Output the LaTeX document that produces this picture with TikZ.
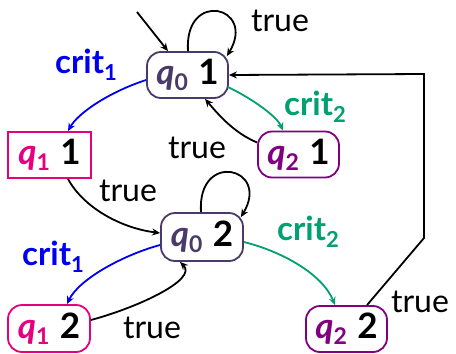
\documentclass[tikz,border=0pt]{standalone}
\usepackage{fontspec}
\setmainfont{Lato}
\usetikzlibrary{arrows.meta}
\definecolor{cq0}{HTML}{4A3A6A}
\definecolor{cq1}{HTML}{E5007D}
\definecolor{cq2}{HTML}{800080}
\definecolor{cblue}{HTML}{0000F0}
\definecolor{cgreen}{HTML}{00A070}
\newcommand\qn[3]{{\color{#1}\bfseries\itshape q\raisebox{-0.17em}{\upshape\fontsize{23}{24}\selectfont #2}}\hspace{0.3em}{\bfseries #3}}
\newcommand\crsub[1]{crit\raisebox{-0.2em}{\fontsize{22}{24}\selectfont #1}}
\begin{document}
\begin{tikzpicture}[x=1pt,y=-1pt,
  st/.style={draw,line width=1.8pt,minimum width=81pt,minimum height=46pt,inner sep=0pt,
    font=\fontsize{35}{36}\selectfont},
  rst/.style={st,rounded corners=14pt},
  tr/.style={font=\fontsize{32}{34}\selectfont},
  cr/.style={font=\fontsize{33}{34}\selectfont\bfseries},
  ar/.style={line width=1.8pt,-{Stealth[length=8pt,width=7pt]}}]
\useasboundingbox (0,0) rectangle (456,354);
\node[rst,draw=cq0] (q01) at (187.5,75) {\qn{cq0}{0}{1}};
\node[st,draw=cq1,minimum width=83pt] (q11) at (49.5,155) {\qn{cq1}{1}{1}};
\node[rst,draw=cq2] (q21) at (298.5,154.5) {\qn{cq2}{2}{1}};
\node[rst,draw=cq0,minimum width=82pt,minimum height=48pt] (q02) at (202,237) {\qn{cq0}{0}{2}};
\node[rst,draw=cq1,minimum width=82pt,minimum height=47pt] (q12) at (49,328.5) {\qn{cq1}{1}{2}};
\node[rst,draw=cq2,minimum height=46pt] (q22) at (346.5,329) {\qn{cq2}{2}{2}};
\coordinate (init) at (137,12);
\coordinate (b1) at (424,238);
\coordinate (b2) at (424,74);
% edges
\draw[ar] (init) -- ([xshift=-19.5pt]q01.north);
\draw[ar] ([xshift=0.5pt]q01.north) .. controls +(-4,-62) and +(30,-50) .. ([xshift=-2pt,yshift=-5pt]q01.north east);
\draw[ar,cblue] ([yshift=-5pt]q01.west) .. controls +(-37,12) and +(10,-18) .. ([xshift=18.5pt]q11.north);
\draw[ar,cgreen] ([xshift=-1pt,yshift=-12pt]q01.east) .. controls +(25,12) and +(-6,-14) .. ([xshift=-15.5pt]q21.north);
\draw[ar] ([yshift=12pt]q21.west) .. controls +(-24,-10) and +(12,14) .. ([xshift=17.5pt]q01.south);
\draw[ar] ([xshift=18.5pt]q11.south) .. controls +(15,28) and +(-40,-5) .. ([yshift=4pt]q02.west);
\draw[ar] ([xshift=-1pt]q02.north) .. controls +(-4,-62) and +(30,-50) .. ([xshift=-3pt,yshift=-5pt]q02.north east);
\draw[ar,cblue] ([yshift=-8pt]q02.west) .. controls +(-37,10) and +(12,-25) .. ([xshift=18pt]q12.north);
\draw[ar] ([yshift=8.5pt]q12.east) .. controls +(45,-12) and +(18,18) .. ([xshift=-22pt]q02.south);
\draw[ar,cgreen] ([yshift=-5pt]q02.east) .. controls +(40,10) and +(-12,-30) .. ([xshift=-11.5pt]q22.north);
\draw[ar] ([xshift=20.5pt]q22.north) -- (b1) -- (b2) -- (q01.east);
% labels
\node[tr] (l1) at (280,21) {true};
\node[cr,text=cblue] (l2) at (86,65) {\crsub{1}};
\node[cr,text=cgreen] (l3) at (315,107) {\crsub{2}};
\node[tr] (l4) at (197,148) {true};
\node[tr] (l5) at (128,191) {true};
\node[cr,text=cblue] (l6) at (53,257) {\crsub{1}};
\node[tr] (l7) at (152,328) {true};
\node[cr,text=cgreen] (l8) at (308,232) {\crsub{2}};
\node[tr] (l9) at (420,302) {true};
\end{tikzpicture}
\end{document}
